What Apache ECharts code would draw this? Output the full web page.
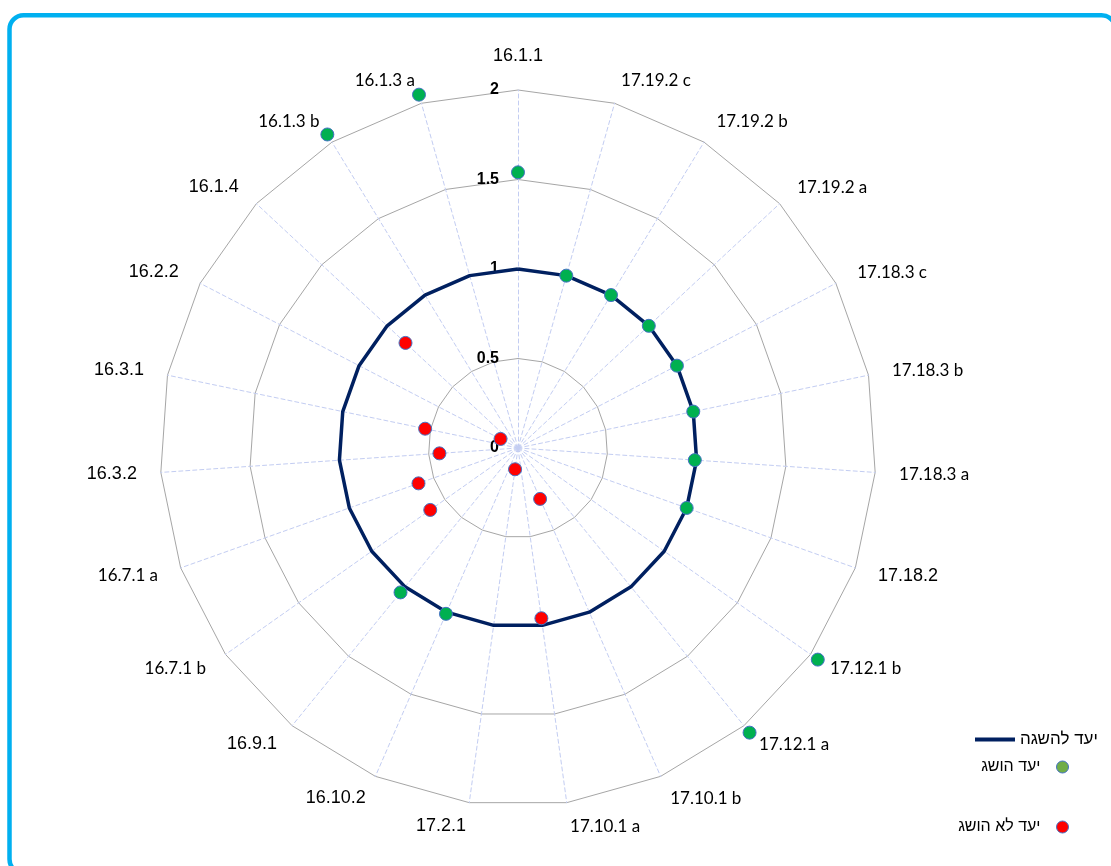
<!DOCTYPE html>
<html>
<head>
<meta charset="utf-8">
<script src="https://cdn.jsdelivr.net/npm/echarts@6/dist/echarts.min.js"></script>
<style>
html,body{margin:0;padding:0;background:#fff;}
#chart{width:1111px;height:866px;}
</style>
</head>
<body>
<div id="chart"></div>
<script>
// Categories (counter-clockwise from the top)
const indicatorNames = ['16.1.1','16.1.3 a','16.1.3 b','16.1.4','16.2.2','16.3.1','16.3.2','16.7.1 a','16.7.1 b','16.9.1','16.10.2','17.2.1','17.10.1 a','17.10.1 b','17.12.1 a','17.12.1 b','17.18.2','17.18.3 a','17.18.3 b','17.18.3 c','17.19.2 a','17.19.2 b','17.19.2 c'];
// Target line (יעד להשגה)
const targetValues = [1,1,1,1,1,1,1,1,1,1,1,1,1,1,1,1,1,1,1,1,1,1,1];
// Achieved (יעד הושג)
const achievedValues = [1.54,2.05,2.05,'-','-','-','-','-','-',1.04,1.01,'-','-','-',2.05,2.05,1.0,0.99,1.0,1.0,1.0,1.0,1.0];
// Not achieved (יעד לא הושג)
const notAchievedValues = ['-','-','-',0.86,0.11,0.53,0.44,0.59,0.60,'-','-',0.12,0.96,0.31,'-','-','-','-','-','-','-','-','-'];
// Radial axis
const axisMax = 2;
const axisSplits = 4;

const seriesNames = ['יעד להשגה','יעד הושג','יעד לא הושג'];

const chart = echarts.init(document.getElementById('chart'), null, {renderer:'canvas'});

const indicators = indicatorNames.map((n, i) => {
  const o = {name: n, min: 0, max: axisMax};
  if (i === 0) {
    o.nameGap = 25;
    o.axisLabel = {show: true, color: '#000', fontWeight: 'bold', fontSize: 16, fontFamily: 'Liberation Sans', margin: 19};
  }
  return o;
});

function toPolar(values) {
  const out = [];
  values.forEach((v, i) => { if (v !== '-') out.push([v, indicatorNames[i]]); });
  return out;
}

const option = {
  animation: false,
  backgroundColor: '#fff',
  graphic: [{
    type: 'rect',
    shape: {x: 9.5, y: 15.3, width: 1106, height: 858, r: 14},
    style: {fill: 'none', stroke: '#00B0F0', lineWidth: 4.5},
    silent: true
  }],
  legend: [{
    data: [{name: seriesNames[0], itemStyle: {color: '#002060'}}],
    left: 975, top: 731, padding: 0,
    icon: 'rect', itemWidth: 40, itemHeight: 4,
    textStyle: {fontFamily: 'Liberation Sans', fontSize: 17, color: '#000'},
    selectedMode: false
  }, {
    data: [
      {name: seriesNames[1], itemStyle: {color: '#70AD47', borderColor: '#4472C4', borderWidth: 1}},
      {name: seriesNames[2], itemStyle: {color: '#FF0000', borderColor: '#4472C4', borderWidth: 1}}
    ],
    orient: 'vertical', align: 'right',
    right: 42, top: 759, padding: 0, itemGap: 44,
    icon: 'circle', itemWidth: 12, itemHeight: 12,
    textStyle: {fontFamily: 'Liberation Sans', fontSize: 16, color: '#000', padding: [0, 11, 0, 0]},
    selectedMode: false
  }],
  radar: {
    center: [518, 448],
    radius: 358,
    startAngle: 90,
    shape: 'polygon',
    splitNumber: axisSplits,
    indicator: indicators,
    nameGap: 24,
    axisName: {
      color: '#000',
      formatter: function (name) {
        return /[a-z]$/.test(name) ? '{s|' + name + '}' : '{b|' + name + '}';
      },
      rich: {
        s: {fontFamily: 'Lato', fontSize: 17, color: '#000'},
        b: {fontFamily: 'Liberation Sans', fontSize: 18, color: '#000'}
      }
    },
    splitLine: {lineStyle: {color: '#A6A6A6', width: 1}},
    splitArea: {show: false},
    axisLine: {lineStyle: {color: '#C3CDF2', width: 1, type: [4, 3]}},
    axisTick: {show: false},
    axisLabel: {show: false}
  },
  polar: {center: [518, 448], radius: 358},
  angleAxis: {
    type: 'category', data: indicatorNames, startAngle: 90, clockwise: false, boundaryGap: false,
    axisLine: {show: false}, axisTick: {show: false}, axisLabel: {show: false}, splitLine: {show: false}
  },
  radiusAxis: {
    min: 0, max: axisMax,
    axisLine: {show: false}, axisTick: {show: false}, axisLabel: {show: false}, splitLine: {show: false}
  },
  series: [{
    type: 'radar',
    name: seriesNames[0],
    symbol: 'none',
    lineStyle: {color: '#002060', width: 3.5},
    itemStyle: {color: '#002060'},
    data: [{value: targetValues, name: seriesNames[0]}],
    z: 3
  }, {
    type: 'scatter',
    coordinateSystem: 'polar',
    name: seriesNames[1],
    clip: false,
    symbol: 'circle',
    symbolSize: 13,
    itemStyle: {color: '#00B050', borderColor: '#4472C4', borderWidth: 1, opacity: 1},
    data: toPolar(achievedValues),
    z: 4
  }, {
    type: 'scatter',
    coordinateSystem: 'polar',
    name: seriesNames[2],
    clip: false,
    symbol: 'circle',
    symbolSize: 13,
    itemStyle: {color: '#FF0000', borderColor: '#4472C4', borderWidth: 1, opacity: 1},
    data: toPolar(notAchievedValues),
    z: 4
  }]
};
chart.setOption(option);
</script>
</body>
</html>
